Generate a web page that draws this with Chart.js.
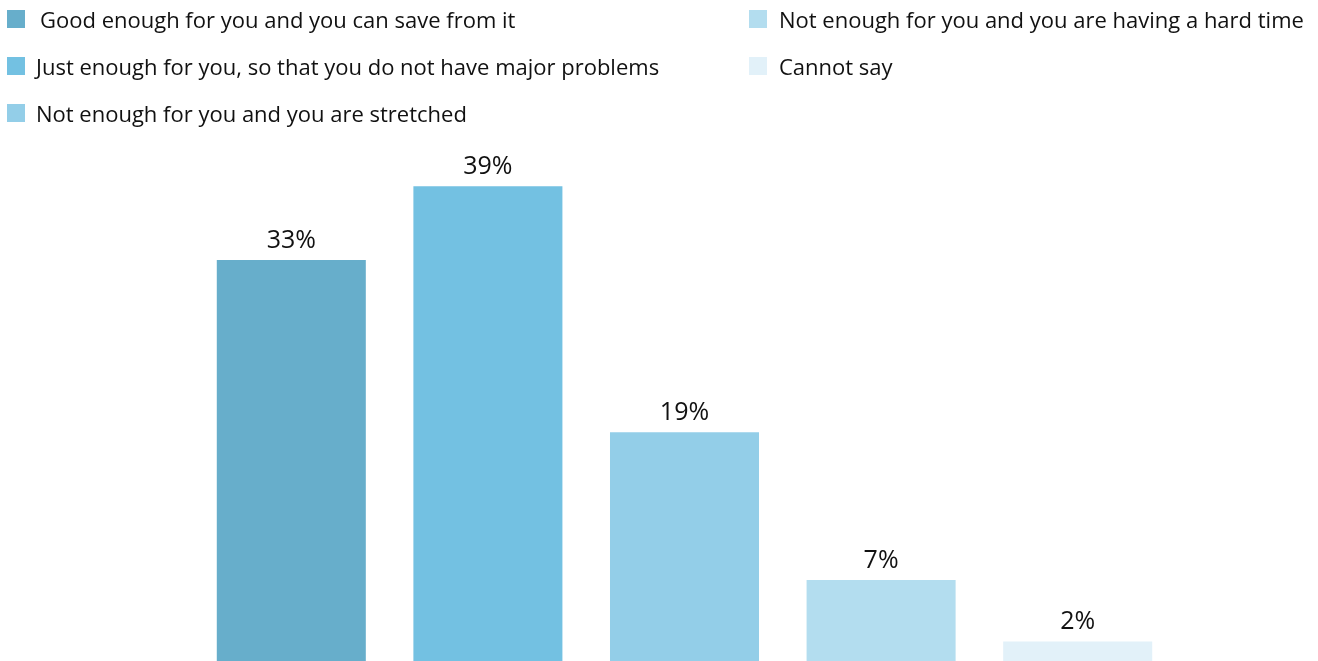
<!DOCTYPE html>
<html>
<head>
<meta charset="utf-8">
<script src="https://cdn.jsdelivr.net/npm/chart.js@4"></script>
<style>
  html, body { margin: 0; padding: 0; background: #fff; }
  #wrap { position: relative; width: 1318px; height: 661px; overflow: hidden; }
  #chart { position: absolute; left: 0; top: 0; }
  .legend { position: absolute; left: 0; top: 0; font-family: "Open Sans", sans-serif; font-size: 22px; color: #111; }
  .item { position: absolute; white-space: nowrap; height: 26px; line-height: 26px; }
  .sw { position: absolute; left: 0; top: 4px; width: 18px; height: 18px; }
  .tx { position: absolute; top: 0; }
</style>
</head>
<body>
<div id="wrap">
  <canvas id="chart" width="1318" height="666"></canvas>
  <div class="legend" id="legend"></div>
</div>
<script>
// Answer categories (also used as legend entries)
const categories = [
  "Good enough for you and you can save from it",
  "Just enough for you, so that you do not have major problems",
  "Not enough for you and you are stretched",
  "Not enough for you and you are having a hard time",
  "Cannot say"
];
// Share of respondents, %
const shares = [33, 39, 19, 7, 2];
const barColors = ["#67aecb", "#73c1e2", "#93cee8", "#b3ddef", "#e2f1f9"];

// Legend laid out in two columns
const legendPos = [
  { x: 7, y: 6, tx: 33 }, { x: 7, y: 53, tx: 29 }, { x: 7, y: 100, tx: 29 },
  { x: 749, y: 6, tx: 30 }, { x: 749, y: 53, tx: 30 }
];
const legend = document.getElementById('legend');
categories.forEach((c, i) => {
  const it = document.createElement('div');
  it.className = 'item';
  it.style.left = legendPos[i].x + 'px';
  it.style.top = legendPos[i].y + 'px';
  const sw = document.createElement('span');
  sw.className = 'sw';
  sw.style.background = barColors[i];
  const tx = document.createElement('span');
  tx.className = 'tx';
  tx.style.left = legendPos[i].tx + 'px';
  tx.textContent = c;
  it.appendChild(sw); it.appendChild(tx);
  legend.appendChild(it);
});

// Percent labels above each bar
const valueLabels = {
  id: 'valueLabels',
  afterDatasetsDraw(chart) {
    const ctx = chart.ctx;
    const meta = chart.getDatasetMeta(0);
    ctx.save();
    ctx.font = '25px "Open Sans", sans-serif';
    ctx.fillStyle = '#111';
    ctx.textAlign = 'center';
    ctx.textBaseline = 'alphabetic';
    meta.data.forEach((bar, i) => {
      ctx.fillText(shares[i] + '%', bar.x, bar.y - 12);
    });
    ctx.restore();
  }
};

new Chart(document.getElementById('chart'), {
  type: 'bar',
  data: {
    labels: categories,
    datasets: [{
      data: shares,
      backgroundColor: barColors,
      borderWidth: 0,
      barPercentage: 0.758,
      categoryPercentage: 1.0
    }]
  },
  options: {
    responsive: false,
    animation: false,
    layout: { padding: { left: 193, right: 142, top: 112.5, bottom: 0 } },
    plugins: { legend: { display: false }, tooltip: { enabled: false } },
    scales: {
      x: { display: false },
      y: { display: false, min: 0, max: 45 }
    }
  },
  plugins: [valueLabels]
});
</script>
</body>
</html>
